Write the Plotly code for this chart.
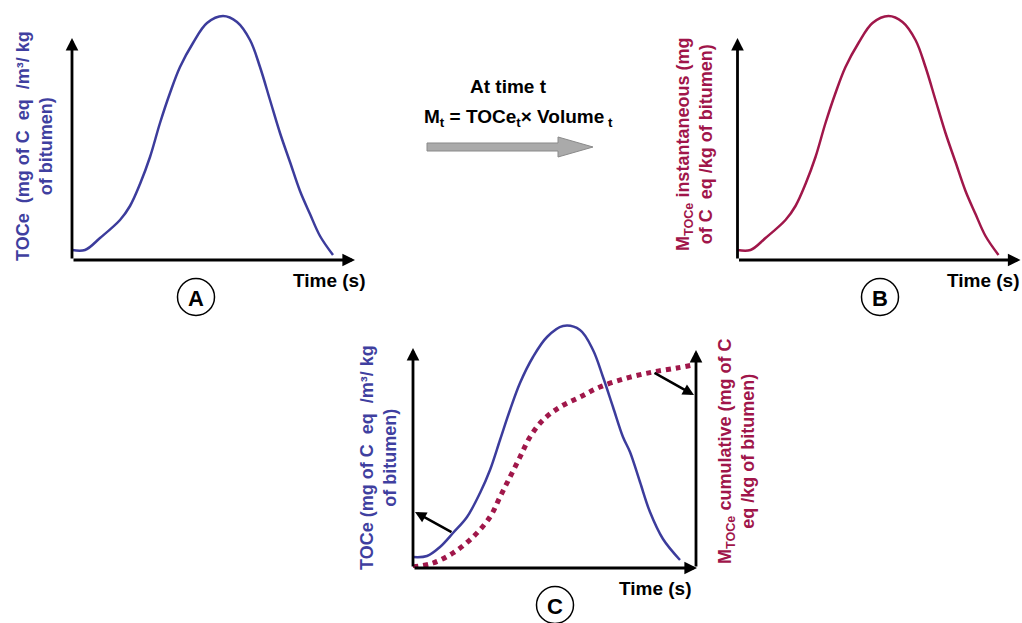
import plotly.graph_objects as go

W, H = 1022, 623

# ---------------- data (schematic values, arbitrary units) ----------------
time_a = [0, 13, 28, 48, 58, 68, 78, 88, 98, 108, 121, 135, 151, 165, 178, 188, 198, 208, 218, 228, 238, 248, 261]
toce_a = [10, 10, 22, 40, 54, 76, 103, 137, 167, 193, 217, 237, 244, 238, 220, 193, 160, 127, 98, 69, 46, 24, 5]

time_b = [0, 13, 28, 48, 58, 68, 78, 88, 98, 108, 121, 135, 151, 165, 178, 188, 198, 208, 218, 228, 238, 248, 261]
minst_b = [10, 10, 22, 40, 54, 76, 103, 137, 167, 193, 217, 237, 244, 238, 220, 193, 160, 127, 98, 69, 46, 24, 5]

time_c = [0, 14, 27, 40, 54, 67, 77, 87, 97, 107, 120, 134, 150, 167, 180, 190, 200, 210, 217, 227, 237, 250, 267]
toce_c = [11, 12, 21, 35, 51, 75, 98, 128, 158, 185, 211, 231, 242, 238, 218, 191, 161, 131, 116, 86, 56, 29, 8]

time_cum = [0, 20, 40, 60, 77, 87, 97, 107, 117, 130, 147, 167, 187, 214, 240, 264, 280]
mcum_c = [1, 5, 15, 31, 51, 71, 91, 111, 131, 148, 161, 171, 181, 190, 196, 200, 203]

BLUE = "#3c3c9c"
RED = "#a0174a"
BLUE_TXT = "#3f3fa0"
RED_TXT = "#a0154a"
FONT = "Liberation Sans"


def pxx(p):
    return p / W


def pxy(p):
    return 1 - p / H


fig = go.Figure()
fig.add_trace(go.Scatter(x=time_a, y=toce_a, mode="lines", line=dict(color=BLUE, width=2.5, shape="spline"),
                         xaxis="x", yaxis="y", showlegend=False))
fig.add_trace(go.Scatter(x=time_b, y=minst_b, mode="lines", line=dict(color=RED, width=2.5, shape="spline"),
                         xaxis="x2", yaxis="y2", showlegend=False))
fig.add_trace(go.Scatter(x=time_c, y=toce_c, mode="lines", line=dict(color=BLUE, width=2.5, shape="spline"),
                         xaxis="x3", yaxis="y3", showlegend=False))
fig.add_trace(go.Scatter(x=time_cum, y=mcum_c, mode="lines", line=dict(color=RED, width=5, dash="5px,5px", shape="spline"),
                         xaxis="x3", yaxis="y3", showlegend=False))

ax_common = dict(visible=False, fixedrange=True)
fig.update_layout(
    width=W, height=H, margin=dict(l=0, r=0, t=0, b=0),
    paper_bgcolor="white", plot_bgcolor="rgba(0,0,0,0)",
    xaxis=dict(domain=[pxx(72), pxx(362)], range=[0, 290], anchor="y", **ax_common),
    yaxis=dict(domain=[pxy(260), pxy(10)], range=[0, 250], anchor="x", **ax_common),
    xaxis2=dict(domain=[pxx(737.5), pxx(1022)], range=[0, 284.5], anchor="y2", **ax_common),
    yaxis2=dict(domain=[pxy(260), pxy(10)], range=[0, 250], anchor="x2", **ax_common),
    xaxis3=dict(domain=[pxx(413), pxx(700)], range=[0, 287], anchor="y3", **ax_common),
    yaxis3=dict(domain=[pxy(568), pxy(320)], range=[0, 248], anchor="x3", **ax_common),
)

ann = []


def arrow(xr, yr, x0, y0, x1, y1, head=2, width=2.8, size=0.9):
    ann.append(dict(xref=xr, yref=yr, axref=xr, ayref=yr, x=x1, y=y1, ax=x0, ay=y0,
                    text="", showarrow=True, arrowhead=head, arrowsize=size, arrowwidth=width,
                    arrowcolor="black", standoff=0, startstandoff=0))


# axes arrows
arrow("x", "y", 0, 0, 283, 0)
arrow("x", "y", 0, 0, 0, 222)
arrow("x2", "y2", 0, 0, 283, 0)
arrow("x2", "y2", 0, 0, 0, 222)
arrow("x3", "y3", 0, 0, 284, 0)
arrow("x3", "y3", 0, 0, 0, 220)
arrow("x3", "y3", 283, 0, 283, 218)
# pointer arrows in C
arrow("x3", "y3", 40, 35, 2, 56, width=2.5)
arrow("x3", "y3", 240, 196, 281, 173, width=2.5)


def text(px, py, s, color="black", size=19, angle=0):
    ann.append(dict(xref="paper", yref="paper", x=pxx(px), y=pxy(py), text=s, showarrow=False,
                    textangle=angle, xanchor="center", yanchor="middle",
                    font=dict(family=FONT, size=size, color=color, weight="bold")))


text(34, 146, "TOCe  (mg of C  eq  /m³/ kg<br>of bitumen)", BLUE_TXT, 18, -90)
text(695, 145, "M<sub>TOCe</sub> instantaneous (mg<br>of C  eq /kg of bitumen)", RED_TXT, 18, -90)
text(378, 458, "TOCe (mg of C  eq  /m³/ kg<br>of bitumen)", BLUE_TXT, 18, -90)
text(736, 452, "M<sub>TOCe</sub> cumulative (mg of C<br>eq /kg of bitumen)", RED_TXT, 18, -90)

text(329, 280, "Time (s)")
text(983, 280, "Time (s)")
text(655, 588, "Time (s)")

text(508, 87, "At time t")
text(518, 118, "M<sub>t</sub> = TOCe<sub>t</sub>× Volume<sub> t</sub>")

text(196, 298, "A", size=22)
text(880, 298, "B", size=22)
text(555, 606, "C", size=22)

fig.update_layout(annotations=ann)

shapes = []
for cx, cy in [(196, 297), (880, 297), (555, 605)]:
    r = 18.5
    shapes.append(dict(type="circle", xref="paper", yref="paper",
                       x0=pxx(cx - r), x1=pxx(cx + r), y0=pxy(cy + r), y1=pxy(cy - r),
                       line=dict(color="black", width=1.5), fillcolor="rgba(0,0,0,0)"))

# big grey arrow
pts = [(427, 143), (558, 143), (558, 137), (593, 147), (558, 157), (558, 151), (427, 151)]
path = "M " + " L ".join(f"{pxx(a):.5f},{pxy(b):.5f}" for a, b in pts) + " Z"
shapes.append(dict(type="path", xref="paper", yref="paper", path=path,
                   fillcolor="#aaaaaa", line=dict(color="#8a8a8a", width=1)))
fig.update_layout(shapes=shapes)

fig.write_html("out.html")
